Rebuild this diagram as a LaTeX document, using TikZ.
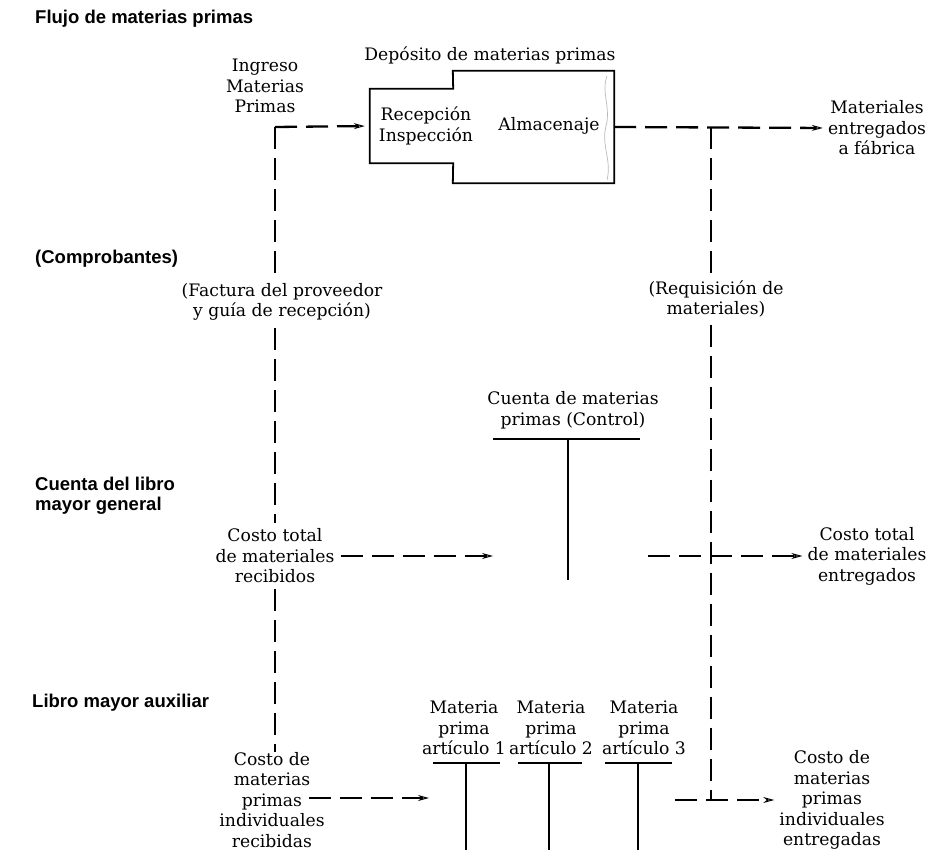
\documentclass[tikz,border=0pt]{standalone}
\usepackage{fontspec}
\newfontfamily\hdrfont{Liberation Sans}
\newfontfamily\bodyfont{DejaVu Serif}
\usetikzlibrary{arrows.meta}
\begin{document}
\begin{tikzpicture}[x=1pt,y=-1pt,
  txt/.style={font=\bodyfont\fontsize{17.2}{20.5}\selectfont, align=center, inner sep=0pt},
  hdr/.style={font=\hdrfont\bfseries\fontsize{18.5}{20.5}\selectfont, align=left, anchor=west, inner sep=0pt},
  flow/.style={line width=2.3pt, dash pattern=on 22pt off 9pt},
  tip/.style={-{Stealth[open,length=11pt,width=6pt,line width=1pt]}, shorten >=5pt},
  acct/.style={line width=1.8pt},
  wall/.style={line width=1.8pt},
  gapped/.style={inner sep=7pt}]
\useasboundingbox (0,0) rectangle (933,856);

% row headings
\node[hdr] (hFlujo) at (35,19) {Flujo de materias primas};
\node[hdr] (hComp) at (35,259) {(Comprobantes)};
\node[hdr] (hMayor) at (35,496) {Cuenta del libro\\mayor general};
\node[hdr] (hAux) at (32,703) {Libro mayor auxiliar};

% warehouse
\node[txt] (depTitle) at (490,55) {Depósito de materias primas};
\node[inner sep=0pt, minimum width=83pt, minimum height=74pt] (recep) at (411.5,126) {};
\node[inner sep=0pt, minimum width=161pt, minimum height=112pt] (alm) at (533.5,127) {};
\draw[wall] (recep.north west) -- (recep.north east) -- (alm.north west) -- (alm.north east)
  -- (alm.south east) -- (alm.south west) -- (recep.south east) -- (recep.south west) -- cycle;
\draw[gray!55, line width=0.7pt] (607,76) .. controls (601,92) and (611,108) .. (606,126)
  .. controls (601,146) and (612,160) .. (607,180);
\node[txt] (recepTxt) at (426,126) {Recepción\\Inspección};
\node[txt] (almTxt) at (549,126) {Almacenaje};

% flow labels
\node[txt] (ingreso) at (265,86) {Ingreso\\Materias\\Primas};
\node[txt] (fabrica) at (877,128) {Materiales\\entregados\\a fábrica};
\node[txt, gapped] (factura) at (282,302) {(Factura del proveedor\\y guía de recepción)};
\node[txt, gapped] (requis) at (716,299) {(Requisición de\\materiales)};
\node[txt, inner sep=6pt] (ctRec) at (275,556) {Costo total\\de materiales\\recibidos};
\node[txt] (ctEnt) at (867,556) {Costo total\\de materiales\\entregados};
\node[txt] (ciRec) at (272,800) {Costo de\\materias\\primas\\individuales\\recibidas};
\node[txt] (ciEnt) at (832,800) {Costo de\\materias\\primas\\individuales\\entregadas};

% control account
\node[txt] (ctrl) at (573,410) {Cuenta de materias\\primas (Control)};
\draw[acct] (493,439) -- (640,439);
\draw[acct] (568,439) -- (568,580);

% subsidiary accounts
\node[txt] (art1) at (464,728) {Materia\\prima\\artículo 1};
\node[txt] (art2) at (551,728) {Materia\\prima\\artículo 2};
\node[txt] (art3) at (644,728) {Materia\\prima\\artículo 3};
\draw[acct] (433,763) -- (500,763);
\draw[acct] (466,763) -- (466,850);
\draw[acct] (518,763) -- (582,763);
\draw[acct] (549,763) -- (549,850);
\draw[acct] (605,763) -- (672,763);
\draw[acct] (638,763) -- (638,850);

% connector end points
\coordinate (cL) at (275,127);
\coordinate (cR) at (711,127);
\coordinate (ctrlIn) at (498,556);
\coordinate (ctrlOut) at (648,556);
\coordinate (auxFrom) at (309,798);
\coordinate (auxIn) at (434,798);
\coordinate (auxOut) at (675,800);
\coordinate (cB) at (711,800);

% receiving side
\draw[flow] (cL) -- (cL |- factura.north);
\draw[flow] (cL |- factura.south) -- (cL |- ctRec.north);
\draw[flow] (cL |- ctRec.south) -- (cL |- ciRec.north);
\draw[flow, tip] (cL) -- (recep.west);
\draw[flow, tip] (ctRec.east) -- (ctrlIn);
\draw[flow, tip] (auxFrom) -- (auxIn);

% issuing side
\draw[flow, tip] (alm.east) -- (fabrica.west);
\draw[flow] (cR) -- (cR |- requis.north);
\draw[flow] (cR |- requis.south) -- (cB);
\draw[flow, tip] (ctrlOut) -- (ctEnt.west |- ctrlOut);
\draw[flow, tip] (auxOut) -- (ciEnt.west |- auxOut);
\end{tikzpicture}
\end{document}
